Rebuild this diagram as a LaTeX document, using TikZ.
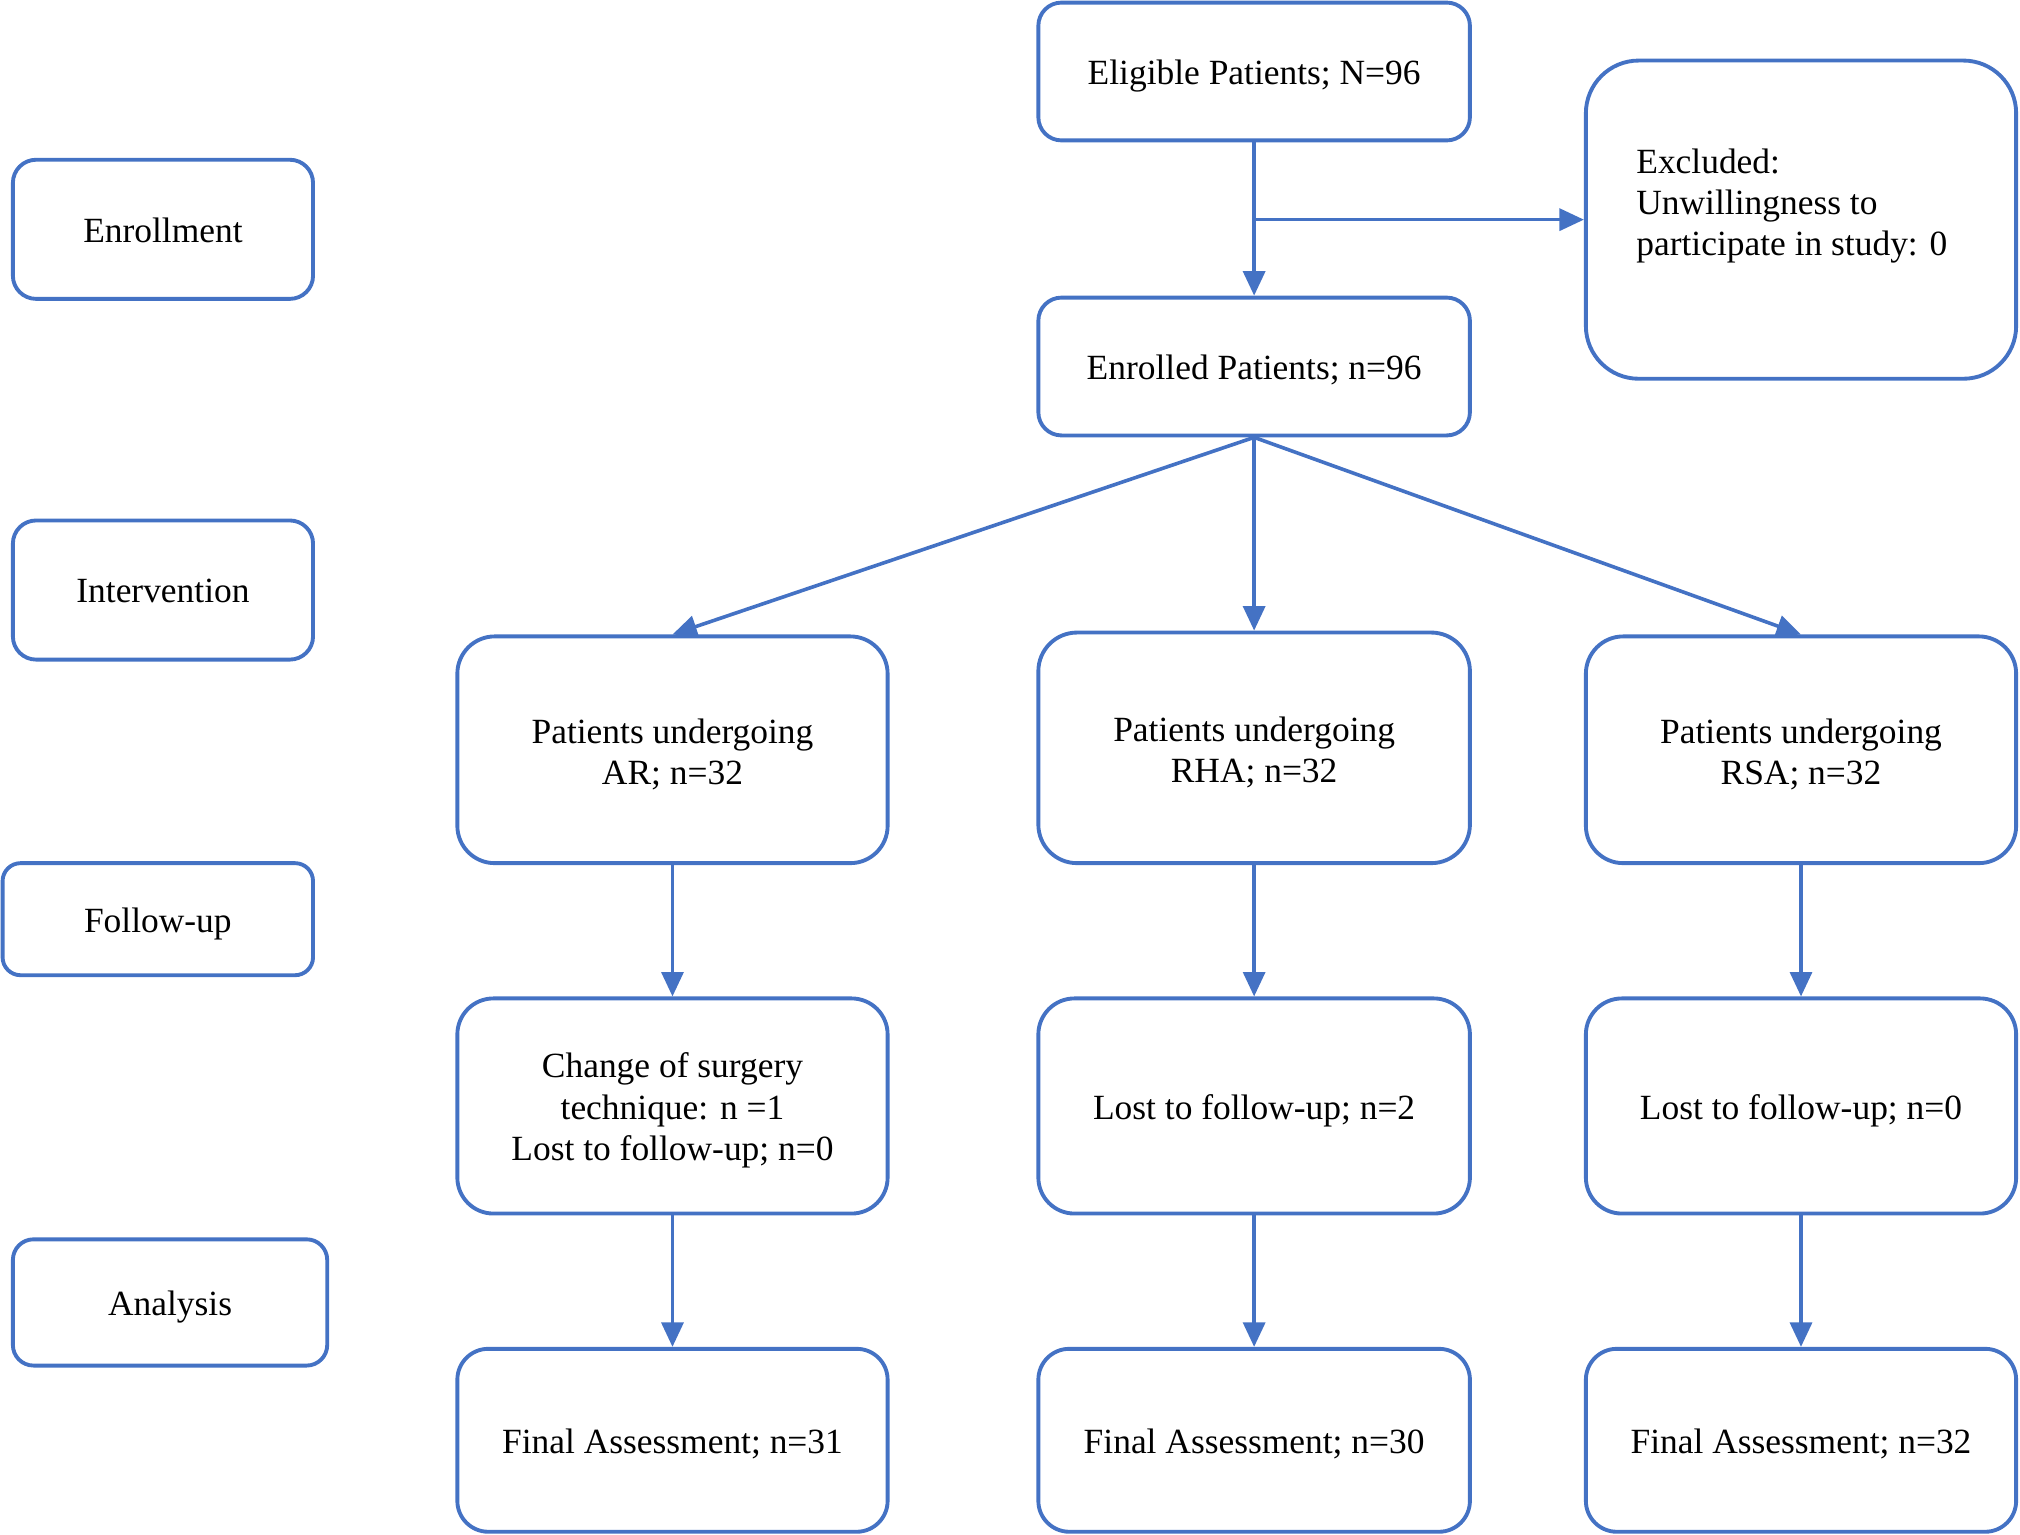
\documentclass[tikz,border=0pt]{standalone}
\usepackage{fontspec}
\setmainfont{Liberation Serif}
\usetikzlibrary{arrows.meta}
\definecolor{obl}{HTML}{4472C4}
\tikzset{
  box/.style={draw=obl, line width=3pt, fill=white, inner sep=0pt},
  txt/.style={align=center, inner sep=0pt, font=\fontsize{27.5}{32}\selectfont},
  conn/.style={draw=obl, line width=2.8pt, -{Triangle[length=19pt,width=17pt]}},
}
% \bx{name}{x}{y}{w}{h}{radius}{text shift}{text}
\newcommand{\bx}[8]{%
  \node[box, rounded corners=#6pt, minimum width=#4pt, minimum height=#5pt] (#1) at (#2,#3) {};
  \node[txt, yshift=-#7pt] (#1-t) at (#1.center) {#8};
}
\begin{document}
\begin{tikzpicture}[x=1pt,y=-1pt]
\useasboundingbox (0,0) rectangle (1568,1191);
% left labels
\bx{enr}{126.5}{178}{233}{108}{18}{1}{Enrollment}
\bx{int}{126.5}{458}{233}{108}{18}{1}{Intervention}
\bx{fol}{122.5}{713.5}{241}{87}{14}{3.5}{Follow-up}
\bx{ana}{132}{1011}{244}{98}{16}{3.5}{Analysis}
% main column
\bx{elig}{973.5}{55.5}{335}{107}{18}{3.5}{Eligible Patients; N=96}
\bx{enrol}{973.5}{284.5}{335}{107}{18}{3}{Enrolled Patients; n=96}
\node[box, rounded corners=41pt, minimum width=334pt, minimum height=247pt] (excl) at (1398,170.5) {};
\node[txt, align=left, anchor=west] (excltext) at (1270,160) {Excluded:\\Unwillingness to\\participate in study: 0};
% interventions
\bx{ar}{522}{582}{334}{176}{29}{3.5}{Patients undergoing\\AR; n=32}
\bx{rha}{973.5}{580.5}{335}{179}{30}{3.5}{Patients undergoing\\RHA; n=32}
\bx{rsa}{1398}{582}{334}{176}{29}{3.5}{Patients undergoing\\RSA; n=32}
% follow-up
\bx{chg}{522}{858.5}{334}{167}{28}{3.5}{Change of surgery\\technique: n =1\\Lost to follow-up; n=0}
\bx{lost2}{973.5}{858.5}{335}{167}{28}{3.5}{Lost to follow-up; n=2}
\bx{lost3}{1398}{858.5}{334}{167}{28}{3.5}{Lost to follow-up; n=0}
% final
\bx{fin1}{522}{1118}{334}{142}{24}{3}{Final Assessment; n=31}
\bx{fin2}{973.5}{1118}{335}{142}{24}{3}{Final Assessment; n=30}
\bx{fin3}{1398}{1118}{334}{142}{24}{3}{Final Assessment; n=32}
% connectors
\coordinate (br) at (elig.south |- excl.west);
\draw[conn] (elig.south) -- (enrol.north);
\draw[conn] (br) -- (excl.west);
\draw[conn] (enrol.south) -- (ar.north);
\draw[conn] (enrol.south) -- (rha.north);
\draw[conn] (enrol.south) -- (rsa.north);
\draw[conn] (ar.south) -- (chg.north);
\draw[conn] (rha.south) -- (lost2.north);
\draw[conn] (rsa.south) -- (lost3.north);
\draw[conn] (chg.south) -- (fin1.north);
\draw[conn] (lost2.south) -- (fin2.north);
\draw[conn] (lost3.south) -- (fin3.north);
\end{tikzpicture}
\end{document}
